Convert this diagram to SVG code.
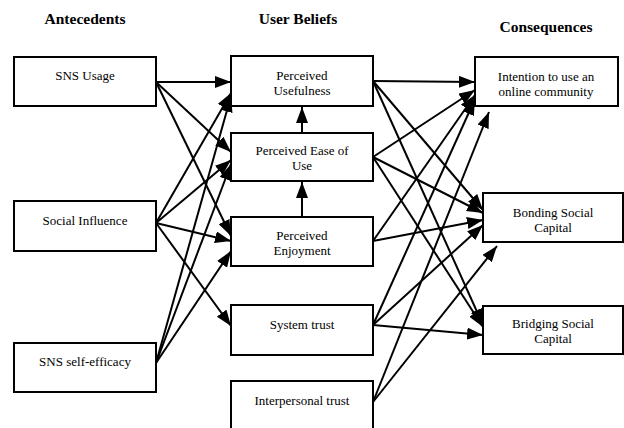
<svg xmlns="http://www.w3.org/2000/svg" width="624" height="428" viewBox="0 0 624 428">
<style>
.box{fill:#fff;stroke:#000;stroke-width:2}
.t{font-family:"Liberation Serif","Times New Roman",serif;font-size:13px;text-anchor:middle;fill:#000}
.h{font-family:"Liberation Serif","Times New Roman",serif;font-size:15.5px;font-weight:bold;text-anchor:middle;fill:#000}
.c line{stroke:#000;stroke-width:2;marker-end:url(#ah)}
</style>
<defs>
<marker id="ah" viewBox="0 0 16 12" refX="16" refY="6" markerWidth="16" markerHeight="12" orient="auto" markerUnits="userSpaceOnUse">
<path d="M0,0 L16,6 L0,12 z" fill="#000"/>
</marker>
</defs>
<rect width="624" height="428" fill="#fff"/>
<text class="h" x="85" y="24">Antecedents</text>
<text class="h" x="298" y="24">User Beliefs</text>
<text class="h" x="546" y="32">Consequences</text>

<g class="c" id="connectors">
<line x1="156" y1="82" x2="231" y2="82"/>
<line x1="156" y1="82" x2="231" y2="152"/>
<line x1="156" y1="82" x2="231" y2="236"/>
<line x1="156" y1="223" x2="231" y2="93"/>
<line x1="156" y1="223" x2="231" y2="160"/>
<line x1="156" y1="223" x2="231" y2="241"/>
<line x1="156" y1="223" x2="231" y2="326"/>
<line x1="156" y1="363" x2="231" y2="96"/>
<line x1="156" y1="363" x2="231" y2="164"/>
<line x1="156" y1="363" x2="231" y2="251"/>
<line x1="302" y1="133" x2="302" y2="107"/>
<line x1="302" y1="217" x2="302" y2="182"/>
<line x1="373" y1="81" x2="475" y2="82"/>
<line x1="373" y1="81" x2="483" y2="210"/>
<line x1="373" y1="81" x2="483" y2="325"/>
<line x1="373" y1="157" x2="475" y2="90"/>
<line x1="373" y1="157" x2="483" y2="213"/>
<line x1="373" y1="157" x2="483" y2="327"/>
<line x1="373" y1="241" x2="475" y2="95"/>
<line x1="373" y1="241" x2="483" y2="220"/>
<line x1="373" y1="325" x2="475" y2="99"/>
<line x1="373" y1="325" x2="483" y2="225"/>
<line x1="373" y1="325" x2="483" y2="335"/>
<line x1="373" y1="402" x2="489" y2="112"/>
<line x1="373" y1="402" x2="497" y2="246"/>
</g>

<g id="sns-usage"><rect class="box" x="14" y="57" width="142" height="49"/><text class="t" x="85" y="80">SNS Usage</text></g>
<g id="social-influence"><rect class="box" x="14" y="201" width="142" height="50"/><text class="t" x="85" y="225">Social Influence</text></g>
<g id="sns-self-efficacy"><rect class="box" x="14" y="343" width="142" height="49"/><text class="t" x="85" y="366">SNS self-efficacy</text></g>

<g id="perceived-usefulness"><rect class="box" x="231" y="56" width="142" height="50"/><text class="t" x="302" y="80">Perceived</text><text class="t" x="302" y="95">Usefulness</text></g>
<g id="perceived-ease"><rect class="box" x="231" y="133" width="142" height="48"/><text class="t" x="302" y="155">Perceived Ease of</text><text class="t" x="302" y="170">Use</text></g>
<g id="perceived-enjoyment"><rect class="box" x="231" y="217" width="142" height="49"/><text class="t" x="302" y="240">Perceived</text><text class="t" x="302" y="255">Enjoyment</text></g>
<g id="system-trust"><rect class="box" x="231" y="305" width="142" height="50"/><text class="t" x="302" y="329">System trust</text></g>
<g id="interpersonal-trust"><rect class="box" x="231" y="381" width="142" height="60"/><text class="t" x="302" y="405">Interpersonal trust</text></g>

<g id="intention"><rect class="box" x="475" y="57" width="143" height="49"/><text class="t" x="546" y="81">Intention to use an</text><text class="t" x="546" y="96">online community</text></g>
<g id="bonding"><rect class="box" x="483" y="193" width="140" height="49"/><text class="t" x="553" y="217">Bonding Social</text><text class="t" x="553" y="232">Capital</text></g>
<g id="bridging"><rect class="box" x="483" y="306" width="140" height="48"/><text class="t" x="553" y="328">Bridging Social</text><text class="t" x="553" y="343">Capital</text></g>
</svg>
